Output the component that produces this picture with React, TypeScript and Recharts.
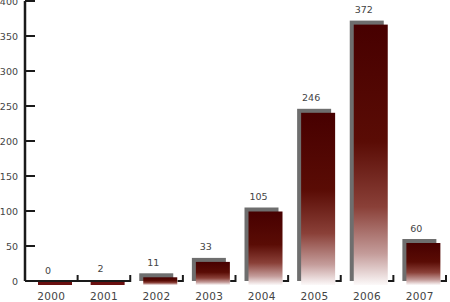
import { BarChart, Bar, XAxis, YAxis, LabelList } from "recharts";

const years = ["2000", "2001", "2002", "2003", "2004", "2005", "2006", "2007"];
const counts = [0, 2, 11, 33, 105, 246, 372, 60];
const yTicks = [0, 50, 100, 150, 200, 250, 300, 350, 400];

const data = years.map((year, i) => ({ year, count: counts[i] }));

const FONT = "'DejaVu Sans', Verdana, sans-serif";
const AXIS_X = 25;
const BAND = (450 - 25 - 4) / years.length;
const SHIFT = 4;
const FLAT = 3; // bars lower than this only show the floor strip

function ShadowBar(props: any) {
  const { x, y, width, height } = props;
  const h = Math.max(height || 0, 0);
  if (h < FLAT) {
    return (
      <rect x={x + SHIFT} y={y + h + 1} width={width} height={3} fill="#6a1010" />
    );
  }
  return (
    <g>
      <rect x={x} y={y} width={width} height={h} fill="#6e6e6e" />
      <rect x={x + SHIFT} y={y + SHIFT} width={width} height={h} fill="url(#maroonFade)" />
    </g>
  );
}

function XTick(props: any) {
  const { x, y, payload, index } = props;
  const value = counts[index] ?? 0;
  const start = x - BAND / 2;
  const end = x + BAND / 2;
  const flat = value * 0.7 < FLAT;
  const lineFrom = flat ? start : x + 17 + SHIFT;
  return (
    <g>
      <line x1={lineFrom} y1={y} x2={end} y2={y} stroke="#1a1a1a" strokeWidth={2} />
      <line x1={end} y1={y - 6} x2={end} y2={y + 1} stroke="#1a1a1a" strokeWidth={2} />
      <text
        x={x}
        y={y + 15}
        textAnchor="middle"
        dominantBaseline="central"
        fontFamily={FONT}
        fontSize={10.5}
        letterSpacing={0.3}
        fill="#444"
      >
        {payload.value}
      </text>
    </g>
  );
}

function YTick(props: any) {
  const { y, payload } = props;
  return (
    <g>
      <line x1={AXIS_X} y1={y} x2={AXIS_X + 10} y2={y} stroke="#1a1a1a" strokeWidth={2} />
      <text
        x={18}
        y={y}
        textAnchor="end"
        dominantBaseline="central"
        fontFamily={FONT}
        fontSize={9.5}
        fill="#444"
      >
        {payload.value}
      </text>
    </g>
  );
}

function ValueLabel(props: any) {
  const { x, y, width, value } = props;
  return (
    <text
      x={x + width / 2 - 3}
      y={y - 11}
      textAnchor="middle"
      dominantBaseline="central"
      fontFamily={FONT}
      fontSize={9.5}
      fill="#444"
    >
      {value}
    </text>
  );
}

export default function App() {
  return (
    <div style={{ position: "absolute", left: 0, top: 0, background: "#fff" }}>
      <BarChart
        width={450}
        height={302}
        data={data}
        margin={{ top: 1, right: 4, bottom: 0, left: 0 }}
        barSize={34}
      >
        <defs>
          <linearGradient id="maroonFade" x1="0" y1="0" x2="0" y2="1">
            <stop offset="0" stopColor="#470000" />
            <stop offset="0.45" stopColor="#5a0c05" />
            <stop offset="0.7" stopColor="#8a4038" />
            <stop offset="0.88" stopColor="#c49c9a" />
            <stop offset="1" stopColor="#fcf9f9" />
          </linearGradient>
        </defs>
        <XAxis
          dataKey="year"
          height={21}
          axisLine={false}
          tickLine={false}
          tickSize={0}
          tickMargin={0}
          interval={0}
          tick={<XTick />}
        />
        <YAxis
          width={25}
          domain={[0, 400]}
          ticks={yTicks}
          interval={0}
          axisLine={{ stroke: "#1a1a1a", strokeWidth: 2.5 }}
          tickLine={false}
          tickSize={0}
          tickMargin={0}
          tick={<YTick />}
        />
        <Bar dataKey="count" shape={<ShadowBar />} isAnimationActive={false}>
          <LabelList dataKey="count" content={<ValueLabel />} />
        </Bar>
      </BarChart>
    </div>
  );
}
